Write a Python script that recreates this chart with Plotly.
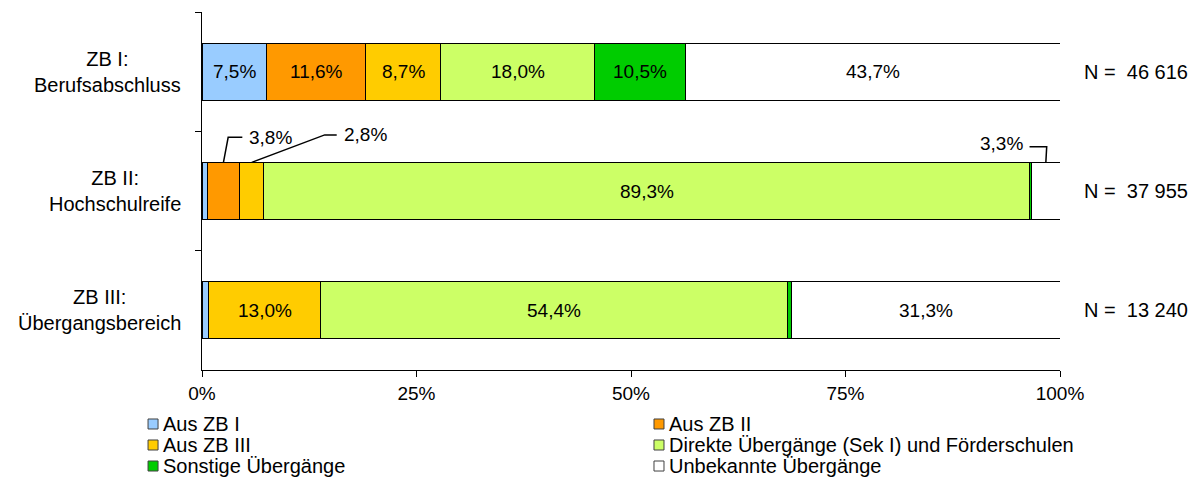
import plotly.graph_objects as go

# categories (top to bottom) and sample sizes
categories = ["ZB I:<br>Berufsabschluss", "ZB II:<br>Hochschulreife", "ZB III:<br>Übergangsbereich"]
n_labels = ["N =\u00a0\u00a046 616", "N =\u00a0\u00a037 955", "N =\u00a0\u00a013 240"]

series_names = ["Aus ZB I", "Aus ZB II", "Aus ZB III",
                "Direkte Übergänge (Sek I) und Förderschulen",
                "Sonstige Übergänge", "Unbekannte Übergänge"]
colors = ["#99CCFF", "#FF9900", "#FFCC00", "#CCFF66", "#00CC00", "#FFFFFF"]

# shares in percent, one list per series (ZB I, ZB II, ZB III)
aus_zb1 = [7.5, 0.6, 0.7]
aus_zb2 = [11.6, 3.8, 0.1]
aus_zb3 = [8.7, 2.8, 13.0]
direkt = [18.0, 89.3, 54.4]
sonstige = [10.5, 0.2, 0.5]
unbekannt = [43.7, 3.3, 31.3]
series_values = [aus_zb1, aus_zb2, aus_zb3, direkt, sonstige, unbekannt]

# which values get a label inside the bar
show_inside = [[True, False, False],
               [True, False, False],
               [True, False, True],
               [True, True, True],
               [True, False, False],
               [True, False, True]]

x_ticks = [0, 25, 50, 75, 100]


def pct(v):
    return f"{v:.1f}".replace(".", ",") + "%"


def start_of(series_idx, r):
    return sum(series_values[i][r] for i in range(series_idx))


FONT = "Liberation Sans, Arial, sans-serif"
BAR_W = 0.48

fig = go.Figure()
for name, color, vals in zip(series_names, colors, series_values):
    fig.add_trace(go.Bar(
        y=categories, x=vals, name=name, orientation="h", width=BAR_W,
        marker=dict(color=color, line=dict(color="#000000", width=1)),
    ))

# value labels in the middle of the segments
for idx, (vals, show) in enumerate(zip(series_values, show_inside)):
    for r, (v, s) in enumerate(zip(vals, show)):
        if s:
            fig.add_annotation(x=start_of(idx, r) + v / 2, y=r, xref="x", yref="y",
                               text=pct(v), showarrow=False,
                               font=dict(size=19, color="#000000", family=FONT))

# callout labels for the small segments of ZB II
row = 1
top = row - BAR_W / 2
callouts = [
    # series index, elbow dx, line end dx, y of label line, side
    (1, 0.55, 2.2, 0.55, "right"),
    (2, 8.5, 9.9, 0.53, "right"),
    (5, 0.1, -1.9, 0.63, "left"),
]
for idx, elbow_dx, end_dx, y_lab, side in callouts:
    v = series_values[idx][row]
    mid = start_of(idx, row) + v / 2
    fig.add_shape(type="path", xref="x", yref="y",
                  path=f"M {mid},{top} L {mid + elbow_dx},{y_lab} L {mid + end_dx},{y_lab}",
                  line=dict(color="#000000", width=1.5))
    fig.add_annotation(x=mid + end_dx, y=y_lab - 0.03 if side == "left" else y_lab, xref="x", yref="y",
                       text=pct(v), showarrow=False,
                       xanchor="left" if side == "right" else "right",
                       xshift=5 if side == "right" else -5,
                       font=dict(size=19, color="#000000", family=FONT))

# category labels and N
for i, (cat, n) in enumerate(zip(categories, n_labels)):
    fig.add_annotation(x=-0.022, y=i, xref="paper", yref="y", text=cat, showarrow=False,
                       xanchor="right", align="center",
                       font=dict(size=20, color="#000000", family=FONT))
    fig.add_annotation(x=1.0256, y=i, xref="paper", yref="y", text=n, showarrow=False,
                       xanchor="left", font=dict(size=20, color="#000000", family=FONT))

# compact two-column legend below the plot
leg_x = [-0.0629, 0.5268]
leg_y0 = -0.1508
leg_dy = 0.0587
sq_w = 0.01166
sq_h = 0.01397
for i, (name, color) in enumerate(zip(series_names, colors)):
    col, r = i % 2, i // 2
    yc = leg_y0 - r * leg_dy
    fig.add_shape(type="rect", xref="paper", yref="paper",
                  x0=leg_x[col], x1=leg_x[col] + sq_w, y0=yc - sq_h, y1=yc + sq_h,
                  fillcolor=color, line=dict(color="#404040", width=1))
    fig.add_annotation(x=leg_x[col] + sq_w + 0.003, y=yc, xref="paper", yref="paper",
                       text=name, showarrow=False, xanchor="left", yanchor="middle",
                       font=dict(size=20, color="#000000", family=FONT))

fig.update_layout(
    barmode="stack",
    width=1194, height=477,
    margin=dict(l=202, r=134, t=12, b=107, autoexpand=False),
    paper_bgcolor="white", plot_bgcolor="white",
    font=dict(family=FONT, size=19, color="#000000"),
    showlegend=False,
    hovermode=False,
    xaxis=dict(range=[0, 100], tickvals=x_ticks, ticktext=[f"{t}%" for t in x_ticks],
               showgrid=False, zeroline=False, showline=True, linecolor="#000000", linewidth=1,
               ticks="outside", ticklen=6, tickcolor="#000000",
               tickfont=dict(size=19, family=FONT), fixedrange=True),
    yaxis=dict(autorange="reversed", showgrid=False, zeroline=False, showline=True,
               linecolor="#000000", linewidth=1, ticks="outside", ticklen=6, tickcolor="#000000",
               tickson="boundaries", showticklabels=False, fixedrange=True),
)

fig.write_html("out.html", config={"displayModeBar": False},
               post_script="document.body.style.margin='0';")
